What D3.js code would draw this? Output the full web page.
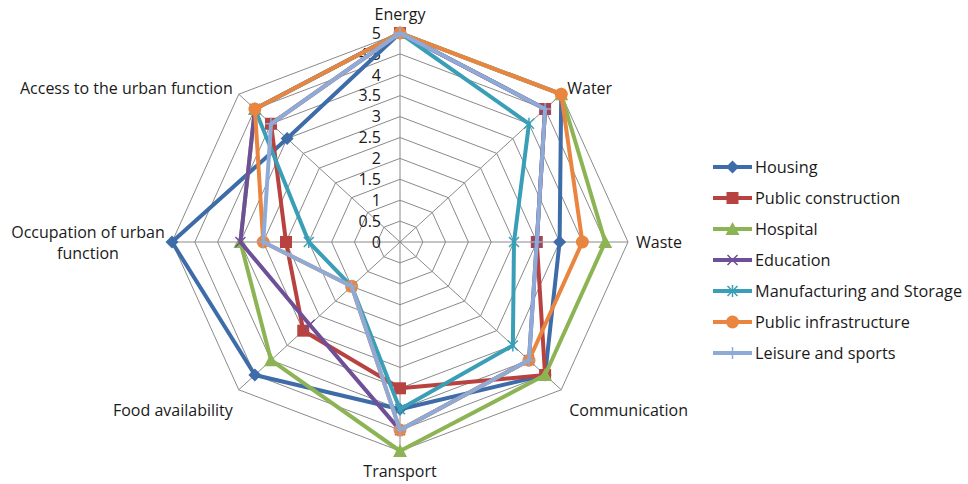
<!DOCTYPE html>
<html>
<head>
<meta charset="utf-8">
<script src="https://cdn.jsdelivr.net/npm/d3@7"></script>
<style>
  html, body { margin: 0; padding: 0; background: #ffffff; }
  svg { display: block; }
  text { font-family: "Open Sans", "Noto Sans", sans-serif; fill: #1a1a1a; }
</style>
</head>
<body>
<svg id="chart" width="968" height="484"></svg>
<script>
// Axes of the radar, clockwise from the top
const categories = ["Energy", "Water", "Waste", "Communication", "Transport",
                    "Food availability", "Occupation of urban function", "Access to the urban function"];

// Scores per sector, in the order of the categories above
const housing              = [5, 5,   3.5, 4.5, 4,   4.5, 5,   3.5];
const publicConstruction   = [5, 4.5, 3,   4.5, 3.5, 3,   2.5, 4];
const hospital             = [5, 5,   4.5, 4.5, 5,   4,   3.5, 4.5];
const education            = [5, 4.5, 3,   4,   4.5, 2.8, 3.5, 4.5];
const manufacturing        = [5, 4,   2.5, 3.5, 4,   1.5, 2,   4.5];
const publicInfrastructure = [5, 5,   4,   4,   4.5, 1.5, 3,   4.5];
const leisure              = [5, 4.5, 3,   4,   4.5, 1.5, 3,   4];

const seriesNames = ["Housing", "Public construction", "Hospital", "Education",
                     "Manufacturing and Storage", "Public infrastructure", "Leisure and sports"];
const seriesValues = [housing, publicConstruction, hospital, education,
                      manufacturing, publicInfrastructure, leisure];

// Radial tick labels
const tickValues = [0, 0.5, 1, 1.5, 2, 2.5, 3, 3.5, 4, 4.5, 5];
const tickLabels = ["0", "0.5", "1", "1.5", "2", "2.5", "3", "3.5", "4", "4.5", "5"];

// Styling per series
const colors  = ["#3d6ca8", "#b8423f", "#8db454", "#6f4f98", "#3a9fb6", "#ea8540", "#8eaad6"];
const markers = ["diamond", "square", "triangle", "x", "star", "circle", "plus"];

const svg = d3.select("#chart");
const cx = 400, cy = 242;

// The plot is a little wider than tall
const rX = d3.scaleLinear().domain([0, 5]).range([0, 228]);
const rY = d3.scaleLinear().domain([0, 5]).range([0, 209]);
const angle = d3.scaleLinear().domain([0, categories.length]).range([0, 2 * Math.PI]);

function pt(i, v) {
  const a = angle(i);
  return [cx + rX(v) * Math.sin(a), cy - rY(v) * Math.cos(a)];
}

// Grid rings
const grid = svg.append("g");
tickValues.filter(t => t > 0).forEach(t => {
  const pts = categories.map((c, i) => pt(i, t));
  grid.append("path")
    .attr("d", d3.line()(pts) + "Z")
    .attr("fill", "none")
    .attr("stroke", "#8a8a8a")
    .attr("stroke-width", 1);
});
// Spokes
categories.forEach((c, i) => {
  const [x, y] = pt(i, 5);
  grid.append("line")
    .attr("x1", cx).attr("y1", cy).attr("x2", x).attr("y2", y)
    .attr("stroke", "#8a8a8a").attr("stroke-width", 1);
});

// Tick labels along the top spoke
svg.append("g").selectAll("text")
  .data(tickValues)
  .join("text")
  .attr("x", cx - 19)
  .attr("y", d => cy - rY(d))
  .attr("dy", "0.36em")
  .attr("text-anchor", "end")
  .attr("font-size", 16)
  .text((d, i) => tickLabels[i]);

// Category labels
const labelPos = [
  { dx: 0,   dy: -19, anchor: "middle" },
  { dx: 6,   dy: -6,  anchor: "start" },
  { dx: 8,   dy: 0,   anchor: "start" },
  { dx: 8,   dy: 20,  anchor: "start" },
  { dx: 0,   dy: 20,  anchor: "middle" },
  { dx: -6,  dy: 20,  anchor: "end" },
  { dx: -84, dy: -10, anchor: "middle" },
  { dx: -6,  dy: -6,  anchor: "end" }
];
const labels = svg.append("g").attr("font-size", 16);
categories.forEach((c, i) => {
  const [x, y] = pt(i, 5);
  const p = labelPos[i];
  const t = labels.append("text")
    .attr("x", x + p.dx)
    .attr("y", y + p.dy)
    .attr("dy", "0.36em")
    .attr("text-anchor", p.anchor);
  if (c === "Occupation of urban function") {
    t.append("tspan").attr("x", x + p.dx).text("Occupation of urban");
    t.append("tspan").attr("x", x + p.dx).attr("dy", "1.3em").text("function");
  } else {
    t.text(c);
  }
});

// Marker drawing
function drawMarker(g, type, x, y, color) {
  switch (type) {
    case "diamond":
      g.append("path").attr("d", `M${x},${y - 6.5}L${x + 6.5},${y}L${x},${y + 6.5}L${x - 6.5},${y}Z`)
        .attr("fill", color);
      break;
    case "square":
      g.append("rect").attr("x", x - 6).attr("y", y - 6).attr("width", 12).attr("height", 12)
        .attr("fill", color);
      break;
    case "triangle":
      g.append("path").attr("d", `M${x},${y - 7}L${x + 7},${y + 6}L${x - 7},${y + 6}Z`)
        .attr("fill", color);
      break;
    case "circle":
      g.append("circle").attr("cx", x).attr("cy", y).attr("r", 6.5).attr("fill", color);
      break;
    case "x":
      g.append("path").attr("d", `M${x - 5},${y - 5}L${x + 5},${y + 5}M${x - 5},${y + 5}L${x + 5},${y - 5}`)
        .attr("stroke", color).attr("stroke-width", 1.5).attr("fill", "none");
      break;
    case "star":
      g.append("path").attr("d", `M${x - 5},${y - 5}L${x + 5},${y + 5}M${x - 5},${y + 5}L${x + 5},${y - 5}M${x},${y - 6}L${x},${y + 6}`)
        .attr("stroke", color).attr("stroke-width", 1.5).attr("fill", "none");
      break;
    case "plus":
      g.append("path").attr("d", `M${x - 6},${y}L${x + 6},${y}M${x},${y - 6}L${x},${y + 6}`)
        .attr("stroke", color).attr("stroke-width", 1.5).attr("fill", "none");
      break;
  }
}

// Series: line then markers, one series at a time
const plot = svg.append("g");
seriesValues.forEach((vals, s) => {
  const g = plot.append("g");
  const pts = vals.map((v, i) => pt(i, v));
  g.append("path")
    .attr("d", d3.line()(pts) + "Z")
    .attr("fill", "none")
    .attr("stroke", colors[s])
    .attr("stroke-width", 4)
    .attr("stroke-linejoin", "round");
  pts.forEach(([x, y]) => drawMarker(g, markers[s], x, y, colors[s]));
});

// Legend
const legend = svg.append("g");
seriesNames.forEach((name, s) => {
  const y = 167 + s * 31;
  const g = legend.append("g");
  g.append("line").attr("x1", 713).attr("x2", 752).attr("y1", y).attr("y2", y)
    .attr("stroke", colors[s]).attr("stroke-width", 4);
  drawMarker(g, markers[s], 732.5, y, colors[s]);
  g.append("text").attr("x", 755).attr("y", y).attr("dy", "0.36em")
    .attr("font-size", 16.3).text(name);
});
</script>
</body>
</html>
